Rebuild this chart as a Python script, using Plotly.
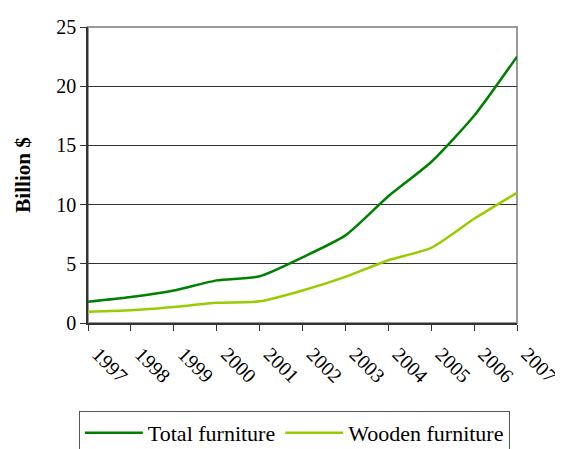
import plotly.graph_objects as go

years = ["1997", "1998", "1999", "2000", "2001", "2002", "2003", "2004", "2005", "2006", "2007"]
total_furniture = [1.8, 2.2, 2.75, 3.6, 3.95, 5.55, 7.4, 10.7, 13.6, 17.5, 22.5]
wooden_furniture = [0.95, 1.07, 1.35, 1.7, 1.83, 2.75, 3.9, 5.3, 6.35, 8.8, 11.0]

FONT = "Liberation Serif"

fig = go.Figure()
fig.add_trace(go.Scatter(x=years, y=total_furniture, name="Total furniture", mode="lines",
                         line=dict(color="#008000", width=2.5, shape="spline", smoothing=0.6)))
fig.add_trace(go.Scatter(x=years, y=wooden_furniture, name="Wooden furniture", mode="lines",
                         line=dict(color="#99CC00", width=2.5, shape="spline", smoothing=0.6)))

fig.add_shape(type="rect", xref="paper", yref="paper", x0=0, y0=0, x1=1, y1=1,
              line=dict(color="#999999", width=2), layer="below")

fig.update_layout(
    width=563, height=449,
    margin=dict(l=80, r=54, t=19, b=134, autoexpand=False),
    paper_bgcolor="white", plot_bgcolor="white",
    font=dict(family=FONT, color="black", size=19),
    showlegend=True,
    legend=dict(orientation="h", x=0.481, xanchor="center", y=-0.297, yanchor="top",
                bordercolor="#555555", borderwidth=1, font=dict(size=22),
                itemwidth=58, tracegroupgap=0),
    xaxis=dict(type="category", range=[0, 10], showgrid=False, showline=True,
               linecolor="#333333", linewidth=1.5, ticks="outside", ticklen=6,
               tickcolor="#333333", tickangle=45, tickfont=dict(size=20, family=FONT),
               ticklabelstandoff=4, ticklabelshift=10, zeroline=False, automargin=False),
    yaxis=dict(range=[0, 25], dtick=5, showgrid=True, gridcolor="#333333", gridwidth=1,
               showline=True, linecolor="#333333", linewidth=1.5, ticks="outside",
               ticklen=6, tickcolor="#333333", tickfont=dict(size=20, family=FONT),
               zeroline=False, automargin=False,
               title=dict(text="<b>Billion $</b>", font=dict(size=21, family=FONT), standoff=20)),
)

fig.write_html("out.html")
